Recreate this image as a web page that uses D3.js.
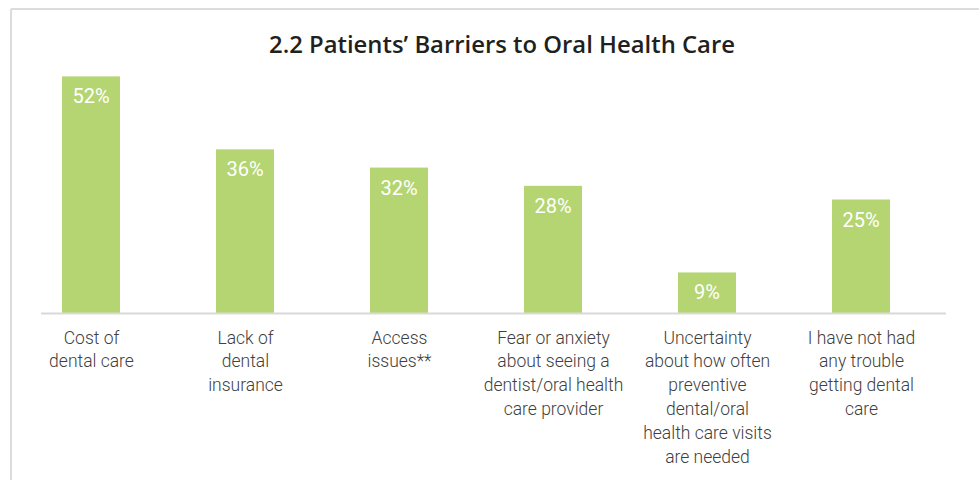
<!DOCTYPE html>
<html>
<head>
<meta charset="utf-8">
<script src="https://cdn.jsdelivr.net/npm/d3@7"></script>
<style>
  html, body { margin: 0; padding: 0; background: #ffffff; }
  svg { display: block; }
</style>
</head>
<body>
<svg id="chart" width="979" height="480"></svg>
<script>
// Survey results: share of patients reporting each barrier to oral health care
const categories = [
  "Cost of dental care",
  "Lack of dental insurance",
  "Access issues**",
  "Fear or anxiety about seeing a dentist/oral health care provider",
  "Uncertainty about how often preventive dental/oral health care visits are needed",
  "I have not had any trouble getting dental care"
];
const categoryLines = [
  ["Cost of", "dental care"],
  ["Lack of", "dental", "insurance"],
  ["Access", "issues**"],
  ["Fear or anxiety", "about seeing a", "dentist/oral health", "care provider"],
  ["Uncertainty", "about how often", "preventive", "dental/oral", "health care visits", "are needed"],
  ["I have not had", "any trouble", "getting dental", "care"]
];
const values = [52, 36, 32, 28, 9, 25];
const valueLabels = values.map(v => v + "%");
const title = "2.2 Patients\u2019 Barriers to Oral Health Care";

const svg = d3.select("#chart");
const W = 979, H = 480;

// frame: top and left rules of the card
svg.append("line").attr("x1", 11).attr("x2", W).attr("y1", 9).attr("y2", 9)
  .attr("stroke", "#dcdcdc").attr("stroke-width", 2);
svg.append("line").attr("x1", 11).attr("x2", 11).attr("y1", 9).attr("y2", H)
  .attr("stroke", "#dcdcdc").attr("stroke-width", 2);

svg.append("text")
  .attr("x", 502).attr("y", 53)
  .attr("text-anchor", "middle")
  .attr("font-family", "'Open Sans', Roboto, sans-serif")
  .attr("font-weight", 600)
  .attr("font-size", 22.5)
  .attr("textLength", 466)
  .attr("lengthAdjust", "spacingAndGlyphs")
  .attr("fill", "#231f20")
  .text(title);

const baseY = 313.5;
const x = d3.scalePoint().domain(categories).range([91, 861]);
const barW = 58;
const y = d3.scaleLinear().domain([0, 60]).range([baseY, baseY - 60 * 4.56]);

const g = svg.append("g");

g.selectAll("rect.bar")
  .data(categories)
  .join("rect")
  .attr("class", "bar")
  .attr("x", d => x(d) - barW / 2)
  .attr("width", barW)
  .attr("y", (d, i) => y(values[i]))
  .attr("height", (d, i) => baseY - y(values[i]))
  .attr("fill", "#b4d571");

g.selectAll("text.val")
  .data(categories)
  .join("text")
  .attr("class", "val")
  .attr("x", d => x(d))
  .attr("y", (d, i) => y(values[i]) + 27)
  .attr("text-anchor", "middle")
  .attr("font-family", "Roboto, 'Noto Sans', sans-serif")
  .attr("font-weight", 400)
  .attr("font-size", 20)
  .attr("fill", "#ffffff")
  .text((d, i) => valueLabels[i]);

// category axis: baseline rule with wrapped labels underneath
const xAxis = d3.axisBottom(x).tickSize(0).tickFormat("");
const axisG = svg.append("g").attr("transform", `translate(0,${baseY})`).call(xAxis);
axisG.select(".domain").remove();
svg.append("line")
  .attr("x1", 41).attr("x2", 946).attr("y1", baseY).attr("y2", baseY)
  .attr("stroke", "#d9d9d9").attr("stroke-width", 2);

axisG.selectAll(".tick").each(function(d, i) {
  const t = d3.select(this).append("text")
    .attr("text-anchor", "middle")
    .attr("font-family", "Roboto, 'Noto Sans', sans-serif")
    .attr("font-weight", 300)
    .attr("font-size", 17.5)
    .attr("fill", "#404040")
    .attr("y", 30);
  categoryLines[i].forEach((line, k) => {
    t.append("tspan").attr("x", 0).attr("dy", k === 0 ? 0 : 23.8).text(line);
  });
});
</script>
</body>
</html>
